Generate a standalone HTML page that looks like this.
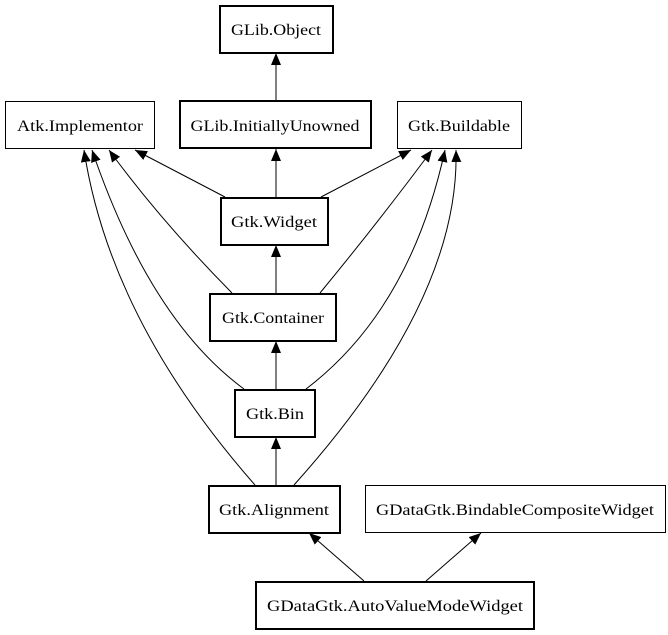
<!DOCTYPE html>
<html><head><style>html,body{margin:0;padding:0;background:#fff}svg{display:block}</style></head><body>
<svg width="668" height="635" xmlns="http://www.w3.org/2000/svg" font-family="Liberation Serif, serif" font-size="16">
<defs><marker id="a" markerWidth="12" markerHeight="10" refX="12" refY="5" orient="auto" markerUnits="userSpaceOnUse"><path d="M0,0 L12,5 L0,10 Z" fill="#000"/></marker></defs>
<g stroke="#000" stroke-width="1" fill="none" marker-end="url(#a)">
<path d="M276,101 L276,53"/>
<path d="M276,197 L276,149"/>
<path d="M225,197 L135,150"/>
<path d="M321,197 L411,150"/>
<path d="M276,293 L276,245"/>
<path d="M232,293 Q160,220 109,150"/>
<path d="M320,293 Q380,220 432,150"/>
<path d="M276,389 L276,341"/>
<path d="M244,389 Q150,320 92,150"/>
<path d="M306,389 Q410,310 445,150"/>
<path d="M276,485 L276,437"/>
<path d="M255,485 Q110,320 84,150"/>
<path d="M294,485 Q460,300 456,150"/>
<path d="M364,581 L309,533"/>
<path d="M426,581 L481,533"/>
</g>
<g fill="#fff" stroke="#000">
<rect x="220" y="6" width="113" height="47" stroke-width="2"/>
<rect x="5.5" y="101.5" width="149" height="47" stroke-width="1"/>
<rect x="180" y="101" width="191" height="47" stroke-width="2"/>
<rect x="397.5" y="101.5" width="124" height="47" stroke-width="1"/>
<rect x="221" y="198" width="107" height="47" stroke-width="2"/>
<rect x="210" y="294" width="126" height="47" stroke-width="2"/>
<rect x="235" y="390" width="80" height="47" stroke-width="2"/>
<rect x="209" y="486" width="131" height="47" stroke-width="2"/>
<rect x="365.5" y="485.5" width="300" height="47" stroke-width="1"/>
<rect x="256" y="582" width="278" height="47" stroke-width="2"/>
</g>
<g fill="#000" text-anchor="middle" lengthAdjust="spacingAndGlyphs">
<text x="276" y="35" textLength="90" lengthAdjust="spacingAndGlyphs">GLib.Object</text>
<text x="80" y="131" textLength="126" lengthAdjust="spacingAndGlyphs">Atk.Implementor</text>
<text x="275" y="131" textLength="169" lengthAdjust="spacingAndGlyphs">GLib.InitiallyUnowned</text>
<text x="459" y="131" textLength="102" lengthAdjust="spacingAndGlyphs">Gtk.Buildable</text>
<text x="274" y="227" textLength="86" lengthAdjust="spacingAndGlyphs">Gtk.Widget</text>
<text x="273" y="323" textLength="102" lengthAdjust="spacingAndGlyphs">Gtk.Container</text>
<text x="275" y="419" textLength="58" lengthAdjust="spacingAndGlyphs">Gtk.Bin</text>
<text x="274" y="515" textLength="110" lengthAdjust="spacingAndGlyphs">Gtk.Alignment</text>
<text x="515" y="515" textLength="278" lengthAdjust="spacingAndGlyphs">GDataGtk.BindableCompositeWidget</text>
<text x="395" y="611" textLength="256" lengthAdjust="spacingAndGlyphs">GDataGtk.AutoValueModeWidget</text>
</g>
</svg>
</body></html>
